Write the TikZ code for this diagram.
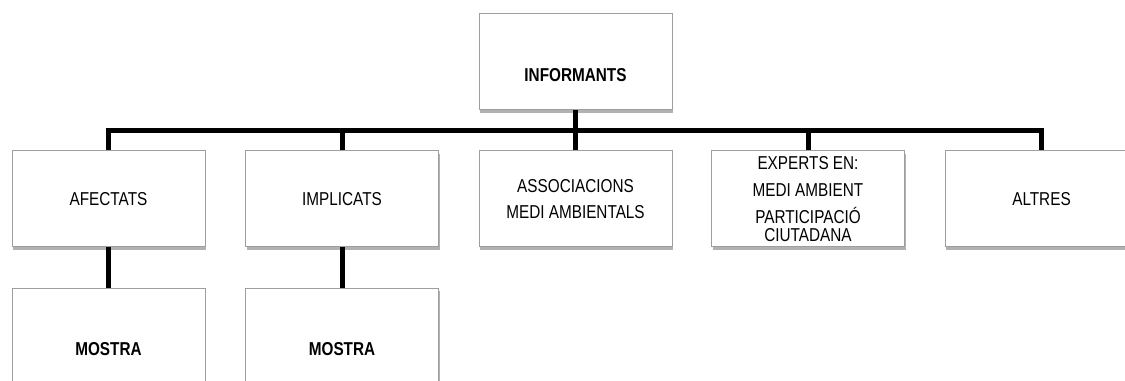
\documentclass[tikz,border=0pt]{standalone}
\usepackage{fontspec}
\setmainfont{Liberation Sans}[FakeStretch=0.82]
\usetikzlibrary{positioning,shadows}

\begin{document}
\begin{tikzpicture}[x=0.75pt,y=-0.75pt,
box/.style = {draw=black!38, line width=0.75pt, fill=white, minimum width=144.75pt, minimum height=72pt, inner sep=1pt, align=center, font=\fontsize{14}{13.5}\selectfont, drop shadow={shadow xshift=1pt,shadow yshift=-2.4pt,fill=black!55,opacity=.55}},
boldlabel/.style = {font=\fontsize{14}{13.5}\selectfont\bfseries, yshift=-9.5pt},
bar/.style = {line width=3.75pt, line join=miter}]
\clip (0,0) rectangle (1125,381);
\node (informants) at (575.5,62)[box,label={[boldlabel]center:INFORMANTS}] {};
\node (afectats) at (108.5,199)[box] {AFECTATS};
\node (implicats) at (342,199)[box] {IMPLICATS};
\node (associacions) at (575.5,199)[box] {ASSOCIACIONS\\[6pt]MEDI AMBIENTALS};
\node (experts) at (808,199)[box] {EXPERTS EN:\\[6.5pt]MEDI AMBIENT\\[6.5pt]PARTICIPACIÓ\\CIUTADANA};
\node (altres) at (1041.5,199)[box] {ALTRES};
\node (mostraA) at (108.5,336)[box,label={[boldlabel]center:MOSTRA}] {};
\node (mostraB) at (342,336)[box,label={[boldlabel]center:MOSTRA}] {};
\coordinate (bus) at (575.5,130.5);
\draw[bar] (afectats.north) |- (bus) -| (altres.north);
\draw[bar] (informants.south) -- (bus);
\draw[bar] (implicats.north) -- (implicats.north |- bus);
\draw[bar] (associacions.north) -- (bus);
\draw[bar] (experts.north) -- (experts.north |- bus);
\draw[bar] (afectats.south) -- (mostraA.north);
\draw[bar] (implicats.south) -- (mostraB.north);
\end{tikzpicture}
\end{document}
